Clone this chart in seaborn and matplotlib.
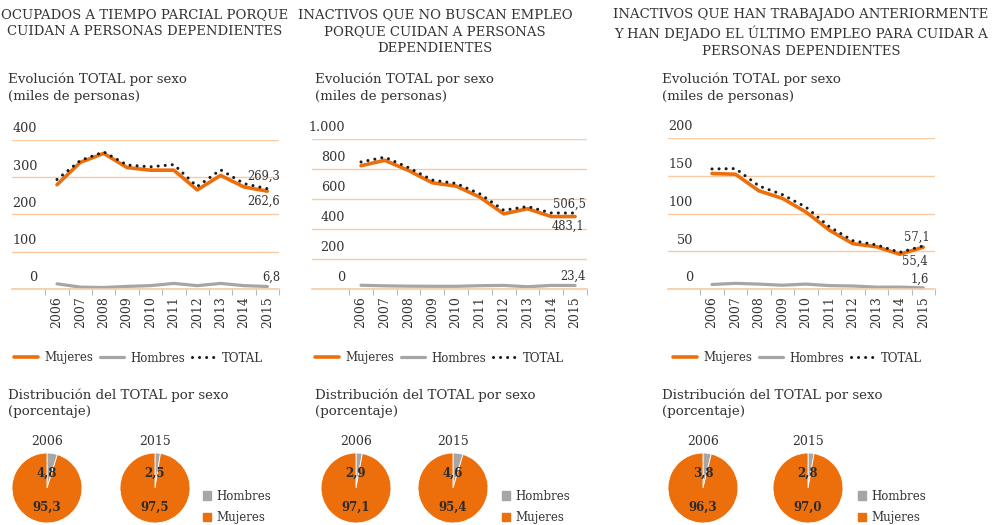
import numpy as np
import pandas as pd
import matplotlib
matplotlib.use('Agg')
import matplotlib.pyplot as plt
import seaborn as sns
from matplotlib.patches import Patch

years = list(range(2006, 2016))

# Ocupados a tiempo parcial porque cuidan a personas dependientes (miles)
parcial_mujeres = [280, 340, 364, 326, 319, 319, 266, 305, 274, 262.6]
parcial_hombres = [14, 5, 4, 7, 9, 15, 9, 15, 9, 6.8]
parcial_total = [294, 345, 368, 333, 328, 334, 275, 320, 283, 269.3]

# Inactivos que no buscan empleo porque cuidan a personas dependientes (miles)
nobusca_mujeres = [822, 858, 790, 708, 686, 612, 501, 535, 483, 483.1]
nobusca_hombres = [25, 21, 19, 18, 18, 22, 24, 15, 24, 23.4]
nobusca_total = [847, 879, 809, 726, 704, 634, 525, 550, 507, 506.5]

# Inactivos que han dejado el ultimo empleo para cuidar (miles)
dejado_mujeres = [153, 152, 130, 120, 102, 78, 60, 56, 46, 55.4]
dejado_hombres = [6, 7.5, 6.5, 5, 6.5, 4.5, 4, 2.5, 2.5, 1.6]
dejado_total = [159, 159.5, 136.5, 125, 108.5, 82.5, 64, 58.5, 48.5, 57.1]

# distribucion del total por sexo (porcentaje) 2006 y 2015
pie_years = ['2006', '2015']
parcial_pct_hombres = [4.8, 2.5]
parcial_pct_mujeres = [95.3, 97.5]
nobusca_pct_hombres = [2.9, 4.6]
nobusca_pct_mujeres = [97.1, 95.4]
dejado_pct_hombres = [3.8, 2.8]
dejado_pct_mujeres = [96.3, 97.0]

titles = [
    'OCUPADOS A TIEMPO PARCIAL PORQUE\nCUIDAN A PERSONAS DEPENDIENTES',
    'INACTIVOS QUE NO BUSCAN EMPLEO\nPORQUE CUIDAN A PERSONAS\nDEPENDIENTES',
    'INACTIVOS QUE HAN TRABAJADO ANTERIORMENTE\nY HAN DEJADO EL ÚLTIMO EMPLEO PARA CUIDAR A\nPERSONAS DEPENDIENTES',
]

ORANGE = '#EC6F0C'
GREY = '#A6A6A6'
GRID = '#F8CBA4'
TXT = '#333333'

sns.set_style('white')
plt.rcParams['font.family'] = ['DejaVu Serif']
plt.rcParams['text.color'] = TXT
plt.rcParams['xtick.color'] = TXT

W, H = 995, 525
fig = plt.figure(figsize=(W / 100, H / 100), dpi=100)


def px_axes(x0, y0, x1, y1):
    return fig.add_axes([x0 / W, 1 - y1 / H, (x1 - x0) / W, (y1 - y0) / H])


def fmt(v, dec=None):
    if dec is None:
        dec = 1 if v % 1 else 0
    s = f'{v:,.{dec}f}'
    return s.replace(',', 'X').replace('.', ',').replace('X', '.')


panels = [
    dict(m=parcial_mujeres, h=parcial_hombres, t=parcial_total,
         ph=parcial_pct_hombres, pm=parcial_pct_mujeres,
         ymax=400, step=100, gx=(12, 279, 140), c0=57, lab_r=37,
         tx=145, left=8, leg=14, pies=(47, 155), pleg=203,
         off=dict(t=(13, 12), m=(13, -10), h=(13, 9))),
    dict(m=nobusca_mujeres, h=nobusca_hombres, t=nobusca_total,
         ph=nobusca_pct_hombres, pm=nobusca_pct_mujeres,
         ymax=1000, step=200, gx=(312, 587, 139), c0=361, lab_r=345,
         tx=435, left=315, leg=315, pies=(356, 453), pleg=502,
         off=dict(t=(11, 9), m=(9, -10), h=(11, 9))),
    dict(m=dejado_mujeres, h=dejado_hombres, t=dejado_total,
         ph=dejado_pct_hombres, pm=dejado_pct_mujeres,
         ymax=200, step=50, gx=(668, 935, 138), c0=712, lab_r=693,
         tx=801, left=662, leg=673, pies=(703, 808), pleg=858,
         off=dict(t=(6, 9), m=(4, -14), h=(6, 9))),
]

for i, p in enumerate(panels):
    x0, x1, ytop = p['gx']
    ax = px_axes(x0, ytop, x1, 289)

    sns.lineplot(x=years, y=p['m'], color=ORANGE, lw=2.6, label='Mujeres',
                 ax=ax, clip_on=False)
    sns.lineplot(x=years, y=p['h'], color=GREY, lw=2.3, label='Hombres',
                 ax=ax, clip_on=False)
    sns.lineplot(x=years, y=p['t'], color='#1a1a1a', lw=2.2, label='TOTAL',
                 linestyle=(0, (0.01, 2.3)), dash_capstyle='round', ax=ax,
                 clip_on=False)

    spacing = (x1 - p['c0']) / 9.5
    ax.set_xlim(years[0] - (p['c0'] - x0) / spacing, years[-1] + 0.5)
    ax.set_ylim(0, p['ymax'])

    ticks = np.arange(0, p['ymax'] + 1, p['step'])
    ax.set_yticks(ticks)
    ax.set_yticklabels([])
    ax.tick_params(axis='y', length=0)
    ax.grid(axis='y', color=GRID, lw=1)
    ax.set_axisbelow(True)
    for v in ticks:
        ax.annotate(fmt(v), xy=((p['lab_r'] - x0) / (x1 - x0), v),
                    xycoords=ax.get_yaxis_transform(), xytext=(0, 8),
                    textcoords='offset points', ha='right', va='center',
                    fontsize=9.2, annotation_clip=False)

    ax.set_xticks(years)
    ax.set_xticklabels([str(y) for y in years], rotation=90, fontsize=9)
    ax.set_xticks(np.append(np.array(years) - 0.5, years[-1] + 0.5), minor=True)
    ax.tick_params(axis='x', which='major', length=0, pad=5)
    ax.tick_params(axis='x', which='minor', bottom=True, length=4,
                   color='#BBBBBB', width=0.8)
    for s in ['top', 'left', 'right']:
        ax.spines[s].set_visible(False)
    ax.spines['bottom'].set_color(GRID)
    ax.spines['bottom'].set_linewidth(1.2)
    ax.set_xlabel('')
    ax.set_ylabel('')

    # etiquetas de 2015
    for key, vals in (('t', p['t']), ('m', p['m']), ('h', p['h'])):
        dx, dy = p['off'][key]
        ax.annotate(fmt(vals[-1]), xy=(years[-1], vals[-1]),
                    xytext=(dx * 0.72, dy * 0.72), textcoords='offset points',
                    ha='right', va='center', fontsize=8.3, annotation_clip=False)

    ax.legend(loc='center left', bbox_to_anchor=(p['leg'] / W, 1 - 358 / H),
              bbox_transform=fig.transFigure, ncol=3, frameon=False,
              handlelength=2.0, handletextpad=0.55, columnspacing=0.6,
              borderpad=0, borderaxespad=0, fontsize=8.5)

    # textos
    fig.text(p['tx'] / W, 1 - 8 / H, titles[i], ha='center', va='top',
             fontsize=9.5, linespacing=1.38)
    fig.text(p['left'] / W, 1 - 73 / H,
             'Evolución TOTAL por sexo\n(miles de personas)',
             ha='left', va='top', fontsize=9.6, linespacing=1.38)
    fig.text(p['left'] / W, 1 - 388 / H,
             'Distribución del TOTAL por sexo\n(porcentaje)',
             ha='left', va='top', fontsize=9.6, linespacing=1.3)

    # tartas
    for j, cx in enumerate(p['pies']):
        pax = px_axes(cx - 35, 453, cx + 35, 523)
        pax.pie([p['ph'][j], p['pm'][j]], colors=[GREY, ORANGE], startangle=90,
                counterclock=False,
                wedgeprops=dict(edgecolor='white', linewidth=0.6))
        pax.set_xlim(-1, 1)
        pax.set_ylim(-1, 1)
        pax.text(0, 0.43, fmt(p['ph'][j], 1), ha='center', va='center',
                 fontsize=8.5, fontweight='bold', color='#2b2b2b')
        pax.text(0, -0.55, fmt(p['pm'][j], 1), ha='center', va='center',
                 fontsize=8.5, fontweight='bold', color='#2b2b2b')
        pax.text(0, 1.34, pie_years[j], ha='center', va='center',
                 fontsize=9, clip_on=False)

    fig.legend(handles=[Patch(color=GREY, label='Hombres'),
                        Patch(color=ORANGE, label='Mujeres')],
               loc='center left', bbox_to_anchor=(p['pleg'] / W, 1 - 507 / H),
               frameon=False, handlelength=0.7, handleheight=0.7,
               handletextpad=0.45, labelspacing=0.72, fontsize=8.5,
               borderpad=0, borderaxespad=0)

fig.savefig('out.png', dpi=100)
